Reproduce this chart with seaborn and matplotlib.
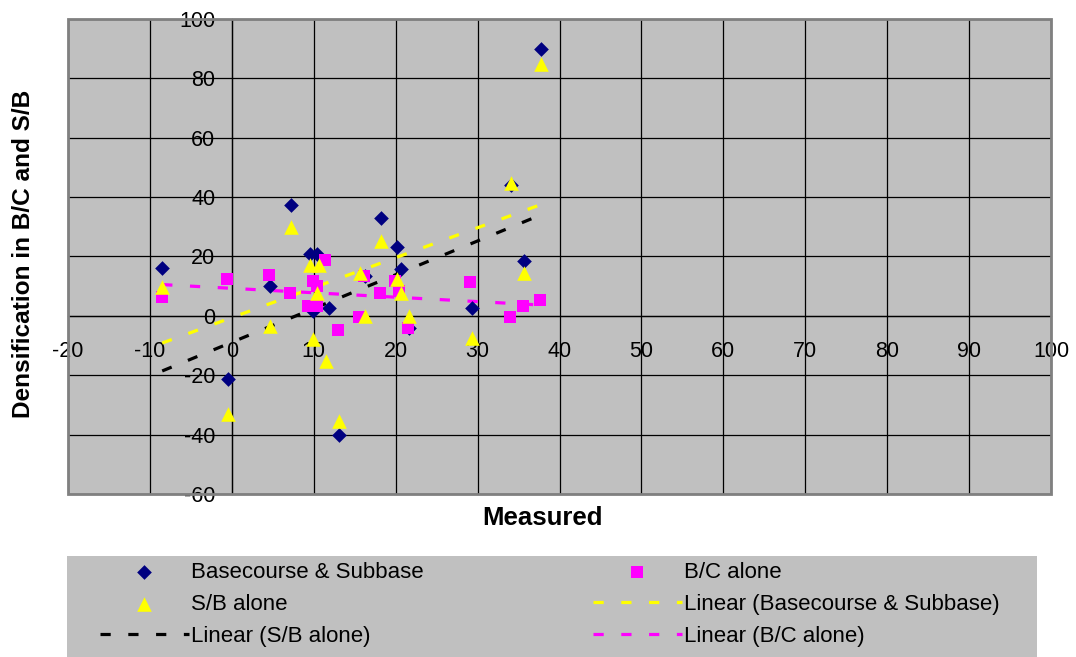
import matplotlib
matplotlib.use("Agg")
import matplotlib.pyplot as plt
import seaborn as sns
from matplotlib.patches import Rectangle

# Basecourse & Subbase (diamonds)
bs_x = [-8.5, -0.45, 4.65, 7.2, 9.5, 10.4, 9.95, 11.8, 13.1, 16.3, 18.2, 20.1, 20.6, 21.6, 29.3, 34.1, 35.7, 37.7]
bs_y = [16.2, -21.2, 9.9, 37.2, 20.7, 20.7, 1.5, 2.5, -40.0, 13.4, 32.8, 23.2, 15.7, -4.2, 2.6, 44.2, 18.5, 89.8]

# S/B alone (triangles)
sb_x = [-8.5, -0.45, 4.65, 7.2, 9.5, 10.6, 9.95, 10.4, 11.5, 13.1, 15.7, 16.2, 18.2, 20.1, 20.6, 21.6, 29.3, 34.1, 35.7, 37.7]
sb_y = [9.7, -33.2, -3.4, 30.0, 17.3, 17.3, -7.8, 7.6, -15.1, -35.4, 14.6, -0.2, 25.2, 12.3, 7.6, -0.2, -7.6, 44.8, 14.6, 84.8]

# B/C alone (squares)
bc_x = [-8.5, -0.6, 4.5, 7.1, 9.9, 11.4, 9.3, 10.4, 10.4, 13.0, 15.5, 16.1, 18.1, 19.9, 20.4, 21.5, 29.1, 34.0, 35.5, 37.6]
bc_y = [6.5, 12.3, 13.7, 7.6, 11.7, 18.7, 3.4, 3.4, 10.0, -4.7, -0.5, 13.4, 7.8, 11.7, 8.4, -4.2, 11.4, -0.4, 3.2, 5.2]

x_ticks = list(range(-20, 101, 10))
y_ticks = list(range(-60, 101, 20))

sns.set_style("white")
plt.rcParams["font.family"] = ["Liberation Sans", "DejaVu Sans"]
plt.rcParams["axes.unicode_minus"] = False
plt.rcParams["text.color"] = "black"
plt.rcParams["axes.labelcolor"] = "black"
plt.rcParams["xtick.color"] = "black"
plt.rcParams["ytick.color"] = "black"

fig = plt.figure(figsize=(10.76, 6.57), dpi=100)
ax = fig.add_axes([0.0632, 0.2481, 0.9136, 0.7230])
ax.set_facecolor("#C0C0C0")

dash = (0, (3.2, 5.5))
sns.regplot(x=bs_x, y=bs_y, scatter=False, ci=None, truncate=True, ax=ax,
            label="Linear (Basecourse & Subbase)",
            line_kws=dict(color="#FFFF00", lw=2.3, linestyle=dash, zorder=2.6))
sns.regplot(x=sb_x, y=sb_y, scatter=False, ci=None, truncate=True, ax=ax,
            label="Linear (S/B alone)",
            line_kws=dict(color="black", lw=2.3, linestyle=dash, zorder=2.6))
sns.regplot(x=bc_x, y=bc_y, scatter=False, ci=None, truncate=True, ax=ax,
            label="Linear (B/C alone)",
            line_kws=dict(color="#FF00FF", lw=2.3, linestyle=dash, zorder=2.6))

sns.scatterplot(x=bs_x, y=bs_y, marker="D", color="#000080", s=56, linewidth=0,
                ax=ax, label="Basecourse & Subbase", zorder=3)
sns.scatterplot(x=bc_x, y=bc_y, marker="s", color="#FF00FF", s=84, linewidth=0,
                ax=ax, label="B/C alone", zorder=3.1)
sns.scatterplot(x=sb_x, y=sb_y, marker="^", color="#FFFF00", s=110, linewidth=0,
                ax=ax, label="S/B alone", zorder=3.2)

handles, labels = ax.get_legend_handles_labels()
if ax.get_legend() is not None:
    ax.get_legend().remove()

ax.set_xlim(-20, 100)
ax.set_ylim(-60, 100)
ax.set_xticks(x_ticks)
ax.set_yticks(y_ticks)
ax.grid(True, color="black", linewidth=0.9)
ax.set_axisbelow(True)

for side in ["top", "right"]:
    ax.spines[side].set_visible(False)
ax.spines["left"].set_position(("data", 0))
ax.spines["bottom"].set_position(("data", 0))
for side in ["left", "bottom"]:
    ax.spines[side].set_color("black")
    ax.spines[side].set_linewidth(0.9)
ax.tick_params(direction="out", length=4, width=0.9, color="black", labelsize=15.5)
ax.tick_params(axis="x", pad=14)
ax.tick_params(axis="y", pad=8)

ax.add_patch(Rectangle((0, 0), 1, 1, transform=ax.transAxes, fill=False,
                       edgecolor="#808080", linewidth=2, zorder=5, clip_on=False))

ax.set_xlabel("Measured", fontsize=18.5, fontweight="bold")
ax.set_ylabel("Densification in B/C and S/B", fontsize=17.6, fontweight="bold")
ax.xaxis.set_label_coords(0.483, -0.05)
ax.xaxis.label.set_va("center")
ax.yaxis.set_label_coords(-0.0453, 0.506)
ax.yaxis.label.set_va("center")

# legend box
fig.patches.append(Rectangle((0.0623, 0), 0.9014, 0.1537, transform=fig.transFigure,
                             facecolor="#C0C0C0", edgecolor="none", zorder=0))
order = ["Basecourse & Subbase", "S/B alone", "Linear (S/B alone)",
         "B/C alone", "Linear (Basecourse & Subbase)", "Linear (B/C alone)"]
hmap = dict(zip(labels, handles))
fig.legend([hmap[k] for k in order], order, ncol=2, frameon=False,
           loc="upper left", bbox_to_anchor=(100 / 1076, 1 - 562 / 657),
           borderpad=0, borderaxespad=0, fontsize=16, handlelength=4,
           handletextpad=0.1, columnspacing=7.6, labelspacing=0.5)

fig.savefig("out.png", dpi=100)
